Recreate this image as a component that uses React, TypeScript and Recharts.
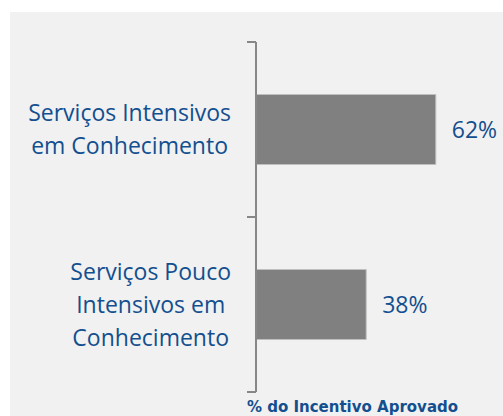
import { BarChart, Bar, XAxis, YAxis, LabelList } from "recharts";

// Categories and their wrapped tick labels
const categories = [
  "Serviços Intensivos em Conhecimento",
  "Serviços Pouco Intensivos em Conhecimento",
];
const categoryLines = [
  ["Serviços Intensivos", "em Conhecimento"],
  ["Serviços Pouco", "Intensivos em", "Conhecimento"],
];
// % do incentivo aprovado
const shares = [62, 38];

const data = categories.map((name, i) => ({ name, value: shares[i] }));

const BLUE = "#134f8f";
const AXIS = "#878787";
const LABEL_FONT = "'Open Sans', sans-serif";
const LABEL_SIZE = 23;
const Y_AXIS_WIDTH = 256;
const LINE_HEIGHT = 33;

let canvas: HTMLCanvasElement | null = null;
function textWidth(text: string) {
  if (!canvas) canvas = document.createElement("canvas");
  const ctx = canvas.getContext("2d");
  if (!ctx) return text.length * 10;
  ctx.font = `${LABEL_SIZE}px 'Open Sans'`;
  return ctx.measureText(text).width;
}

function CategoryTick(props: any) {
  const { y, payload, index } = props;
  const lines = categoryLines[index] || [payload.value];
  const half = payload.offset || 87.5;
  const maxW = Math.max(...lines.map(textWidth));
  const cx = Y_AXIS_WIDTH - 25 - maxW / 2;
  const n = lines.length;
  return (
    <g>
      <line
        x1={Y_AXIS_WIDTH - 9}
        x2={Y_AXIS_WIDTH}
        y1={y - half}
        y2={y - half}
        stroke={AXIS}
        strokeWidth={2}
      />
      <line
        x1={Y_AXIS_WIDTH - 9}
        x2={Y_AXIS_WIDTH}
        y1={y + half}
        y2={y + half}
        stroke={AXIS}
        strokeWidth={2}
      />
      <text
        textAnchor="middle"
        fill={BLUE}
        fontFamily={LABEL_FONT}
        fontSize={LABEL_SIZE}
      >
        {lines.map((line: string, i: number) => (
          <tspan
            key={i}
            x={cx}
            y={y + (i - (n - 1) / 2) * LINE_HEIGHT}
            dy="0.35em"
          >
            {line}
          </tspan>
        ))}
      </text>
    </g>
  );
}

export default function App() {
  return (
    <div
      style={{
        position: "absolute",
        left: 0,
        top: 0,
        width: 503,
        height: 416,
        background: "#ffffff",
        overflow: "hidden",
      }}
    >
      <div
        style={{
          position: "absolute",
          left: 10,
          top: 12,
          right: 0,
          bottom: 0,
          background: "#f1f1f1",
        }}
      />
      <div style={{ position: "absolute", left: 0, top: 0 }}>
        <BarChart
          width={503}
          height={416}
          data={data}
          layout="vertical"
          margin={{ top: 42, right: 44, bottom: 0, left: 0 }}
          barCategoryGap="30%"
        >
          <XAxis
            type="number"
            domain={[0, 70]}
            height={24}
            axisLine={false}
            tickLine={false}
            tick={false}
            label={{
              value: "% do Incentivo Aprovado",
              position: "insideBottom",
              offset: 4,
              dx: -5,
              fill: BLUE,
              fontFamily: "'DejaVu Sans', sans-serif",
              fontWeight: "bold",
              fontSize: 15,
            }}
          />
          <YAxis
            type="category"
            dataKey="name"
            width={Y_AXIS_WIDTH}
            axisLine={{ stroke: AXIS, strokeWidth: 2 }}
            tickLine={false}
            tick={<CategoryTick />}
            interval={0}
          />
          <Bar
            dataKey="value"
            fill="#808080"
            stroke="#bfbfbf"
            strokeWidth={1}
            isAnimationActive={false}
          >
            <LabelList
              dataKey="value"
              position="right"
              offset={16}
              formatter={(v: any) => `${v}%`}
              fill={BLUE}
              fontFamily={LABEL_FONT}
              fontSize={LABEL_SIZE}
            />
          </Bar>
        </BarChart>
      </div>
    </div>
  );
}
